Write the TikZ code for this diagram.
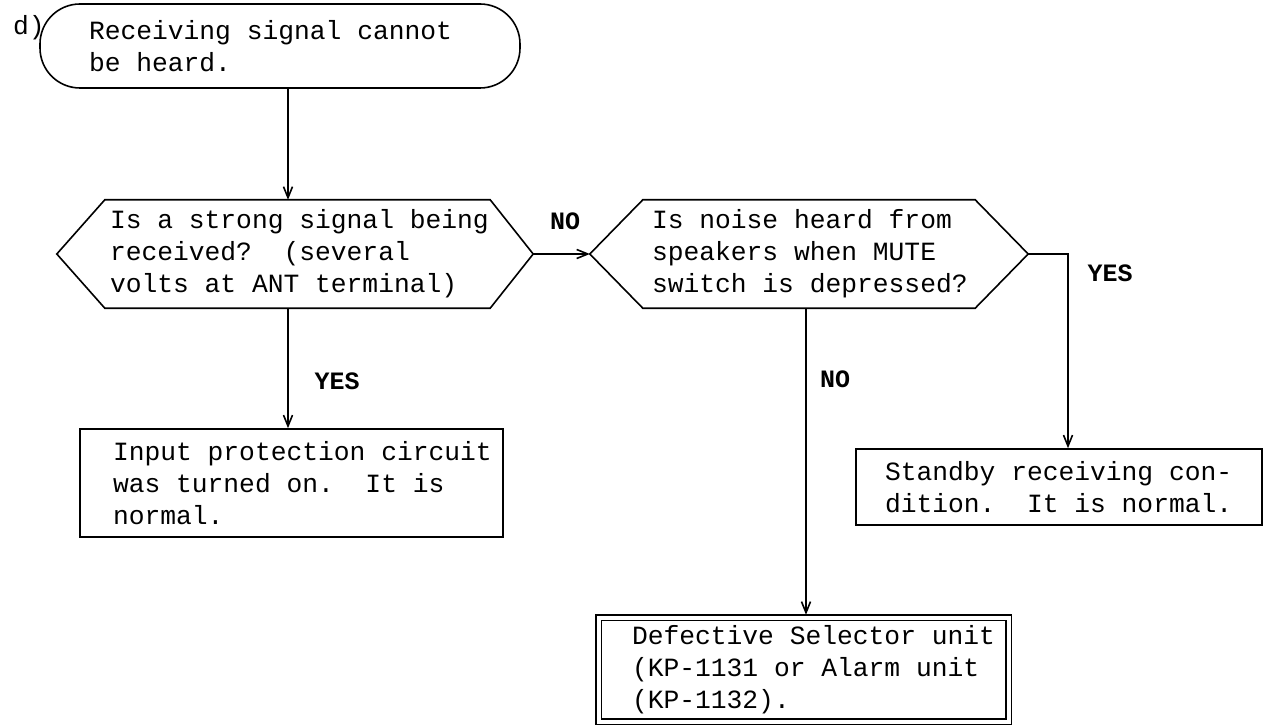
\documentclass[tikz,border=0pt]{standalone}
\usepackage{fontspec}
\newfontfamily\typ{Liberation Mono}
\usetikzlibrary{arrows.meta,calc}
\newcommand\ms{\hspace*{0.6em}}
\begin{document}
\begin{tikzpicture}[x=1pt,y=-1pt,
  txt/.style={font=\typ\fontsize{26.3}{32}\selectfont},
  line/.style={line width=1.6pt},
  arr/.style={line width=1.6pt,-{Straight Barb[length=11pt,width=9pt,line width=1.6pt]}},
  box/.style={txt,draw,line width=1.6pt,align=left,inner ysep=0pt},
  hexbox/.style={txt,align=left,inner ysep=0pt},
  lbl/.style={font=\typ\bfseries\fontsize{25}{30}\selectfont,inner sep=0pt},
  ]
\useasboundingbox (0,0) rectangle (1266,727);
% column coordinates for vertical connectors
\coordinate (c1) at (288,0);
\coordinate (c2) at (806,0);
\coordinate (c3) at (1068,0);

\node[txt,anchor=base west,inner sep=0pt] (lab) at (13,35) {d)};

\node[box,rounded corners=40pt,minimum width=480pt,minimum height=84pt,
      text width=382pt,inner xsep=49pt] (T) at (280,46)
  {\mbox{Receiving\ms signal\ms cannot}\\\mbox{be\ms heard.}};

% decision 1
\node[hexbox,minimum width=385pt,minimum height=108pt,text width=375pt,inner xsep=5pt] (H1) at (297.5,254)
  {\mbox{Is\ms a\ms strong\ms signal\ms being}\\\mbox{received?\ms\ms(several}\\\mbox{volts\ms at\ms ANT\ms terminal)}};
\coordinate (H1r) at ($(H1.east)+(43,0)$);
\coordinate (H1l) at ($(H1.west)+(-48,0)$);
\draw[line] (H1.north west) -- (H1.north east) -- (H1r) -- (H1.south east) -- (H1.south west) -- (H1l) -- cycle;

% decision 2
\node[hexbox,minimum width=332pt,minimum height=108pt,text width=314pt,inner xsep=9pt] (H2) at (809,254)
  {\mbox{Is\ms noise\ms heard\ms from}\\\mbox{speakers\ms when\ms MUTE}\\\mbox{switch\ms is\ms depressed?}};
\coordinate (H2r) at ($(H2.east)+(53,0)$);
\coordinate (H2l) at ($(H2.west)+(-53,0)$);
\draw[line] (H2.north west) -- (H2.north east) -- (H2r) -- (H2.south east) -- (H2.south west) -- (H2l) -- cycle;

% results
\node[box,minimum width=423pt,minimum height=108pt,text width=357pt,inner xsep=33pt] (I) at (291.5,483)
  {\mbox{Input\ms protection\ms circuit}\\\mbox{was\ms turned\ms on.\ms\ms It\ms is}\\\mbox{normal.}};
\node[box,minimum width=406pt,minimum height=76pt,text width=348pt,inner xsep=29pt] (S) at (1059,487)
  {\mbox{Standby\ms receiving\ms con-}\\\mbox{dition.\ms\ms It\ms is\ms normal.}};
\node[box,double,double distance=4pt,line width=1.5pt,minimum width=410pt,minimum height=104pt,
      text width=343pt,inner xsep=33.5pt] (D) at (803.5,669.5)
  {\mbox{Defective\ms Selector\ms unit}\\\mbox{(KP-1131\ms or\ms Alarm\ms unit}\\\mbox{(KP-1132).}};

% connectors
\draw[arr] (T.south -| c1) -- (H1.north -| c1);
\draw[arr] (H1.south -| c1) -- (I.north -| c1);
\draw[arr] (H1r) -- (H2l);
\draw[arr] (H2r) -| (S.north -| c3);
\draw[arr,shorten >=2pt] (H2.south -| c2) -- (D.north -| c2);

% labels
\node[lbl] (no1) at (565,221) {NO};
\node[lbl] (yes1) at (337,381) {YES};
\node[lbl] (no2) at (835,379) {NO};
\node[lbl] (yes2) at (1110,273) {YES};
\end{tikzpicture}
\end{document}
